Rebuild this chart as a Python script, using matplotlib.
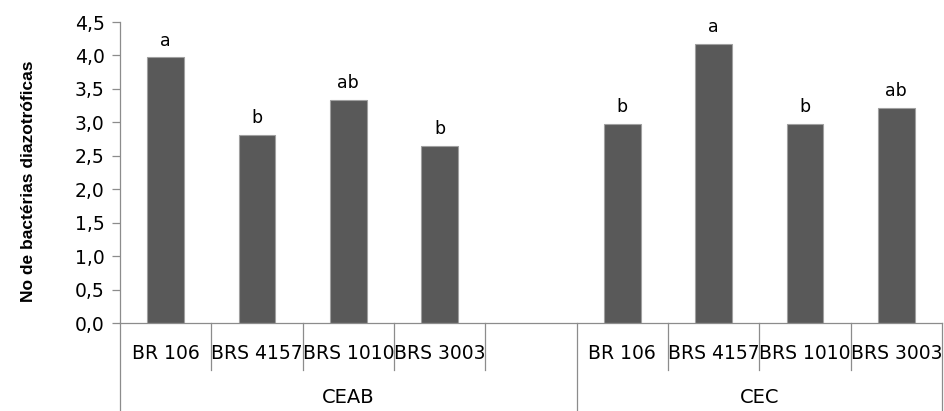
import matplotlib
matplotlib.use("Agg")
import matplotlib.pyplot as plt

# ---- data ----
groups = ["CEAB", "CEC"]
ceab_cultivars = ["BR 106", "BRS 4157", "BRS 1010", "BRS 3003", ""]
cec_cultivars = ["BR 106", "BRS 4157", "BRS 1010", "BRS 3003"]
ceab_values = [3.97, 2.81, 3.33, 2.64]
cec_values = [2.97, 4.17, 2.97, 3.21]
ceab_letters = ["a", "b", "ab", "b"]
cec_letters = ["b", "a", "b", "ab"]
y_ticks = [0.0, 0.5, 1.0, 1.5, 2.0, 2.5, 3.0, 3.5, 4.0, 4.5]
y_label = "No de bactérias diazotróficas"

# ---- style ----
BAR = "#595959"
EDGE = "#a0a0a0"
GRAY = "#8c8c8c"
FONT = "DejaVu Sans"
FS = 13.5

fig = plt.figure(figsize=(9.44, 4.11), dpi=100)
ax = fig.add_axes([120 / 944, 88 / 411, 822 / 944, 301 / 411])

tr = ax.get_xaxis_transform()
cats_by_group = [ceab_cultivars, cec_cultivars]
vals_by_group = [ceab_values, cec_values]
lets_by_group = [ceab_letters, cec_letters]

pos = 0
short_y = -0.156
long_y = -0.295
for gname, cats, vals, lets in zip(groups, cats_by_group, vals_by_group, lets_by_group):
    start = pos
    for i, cat in enumerate(cats):
        ax.text(pos, -0.0997, cat, transform=tr, ha="center", va="center",
                fontsize=FS, family=FONT, color="black", clip_on=False)
        if i < len(vals):
            ax.bar(pos, vals[i], width=0.4, color=BAR, edgecolor=EDGE,
                   linewidth=0.8, zorder=2)
            ax.annotate(lets[i], (pos, vals[i]), xytext=(0, 8.6),
                        textcoords="offset points", ha="center", va="baseline",
                        fontsize=12.5, family=FONT, color="black")
        if i > 0:
            ax.plot([pos - 0.5, pos - 0.5], [0, short_y], transform=tr,
                    color=GRAY, lw=0.9, clip_on=False)
        pos += 1
    end = pos
    ax.plot([start - 0.5, start - 0.5], [0, long_y], transform=tr,
            color=GRAY, lw=0.9, clip_on=False)
    ax.text((start + end - 1) / 2, -0.249, gname, transform=tr, ha="center",
            va="center", fontsize=14, family=FONT, color="black", clip_on=False)
ax.plot([pos - 0.5, pos - 0.5], [0, long_y], transform=tr,
        color=GRAY, lw=0.9, clip_on=False)

ax.set_xlim(-0.5, pos - 0.5)
ax.set_ylim(0, 4.5)
ax.set_xticks([])
ax.set_yticks(y_ticks)
ax.set_yticklabels([f"{v:.1f}".replace(".", ",") for v in y_ticks],
                   fontsize=FS, family=FONT)
ax.tick_params(axis="y", direction="out", length=6, width=0.9, color=GRAY, pad=5)

for s in ["top", "right"]:
    ax.spines[s].set_visible(False)
for s in ["left", "bottom"]:
    ax.spines[s].set_color(GRAY)
    ax.spines[s].set_linewidth(0.9)

ax.set_ylabel(y_label, fontsize=12.5, fontweight="bold", family="Liberation Sans")
ax.yaxis.set_label_coords(-84 / 822, 0.5 - 9 / 301)

fig.savefig("out.png", dpi=100)
